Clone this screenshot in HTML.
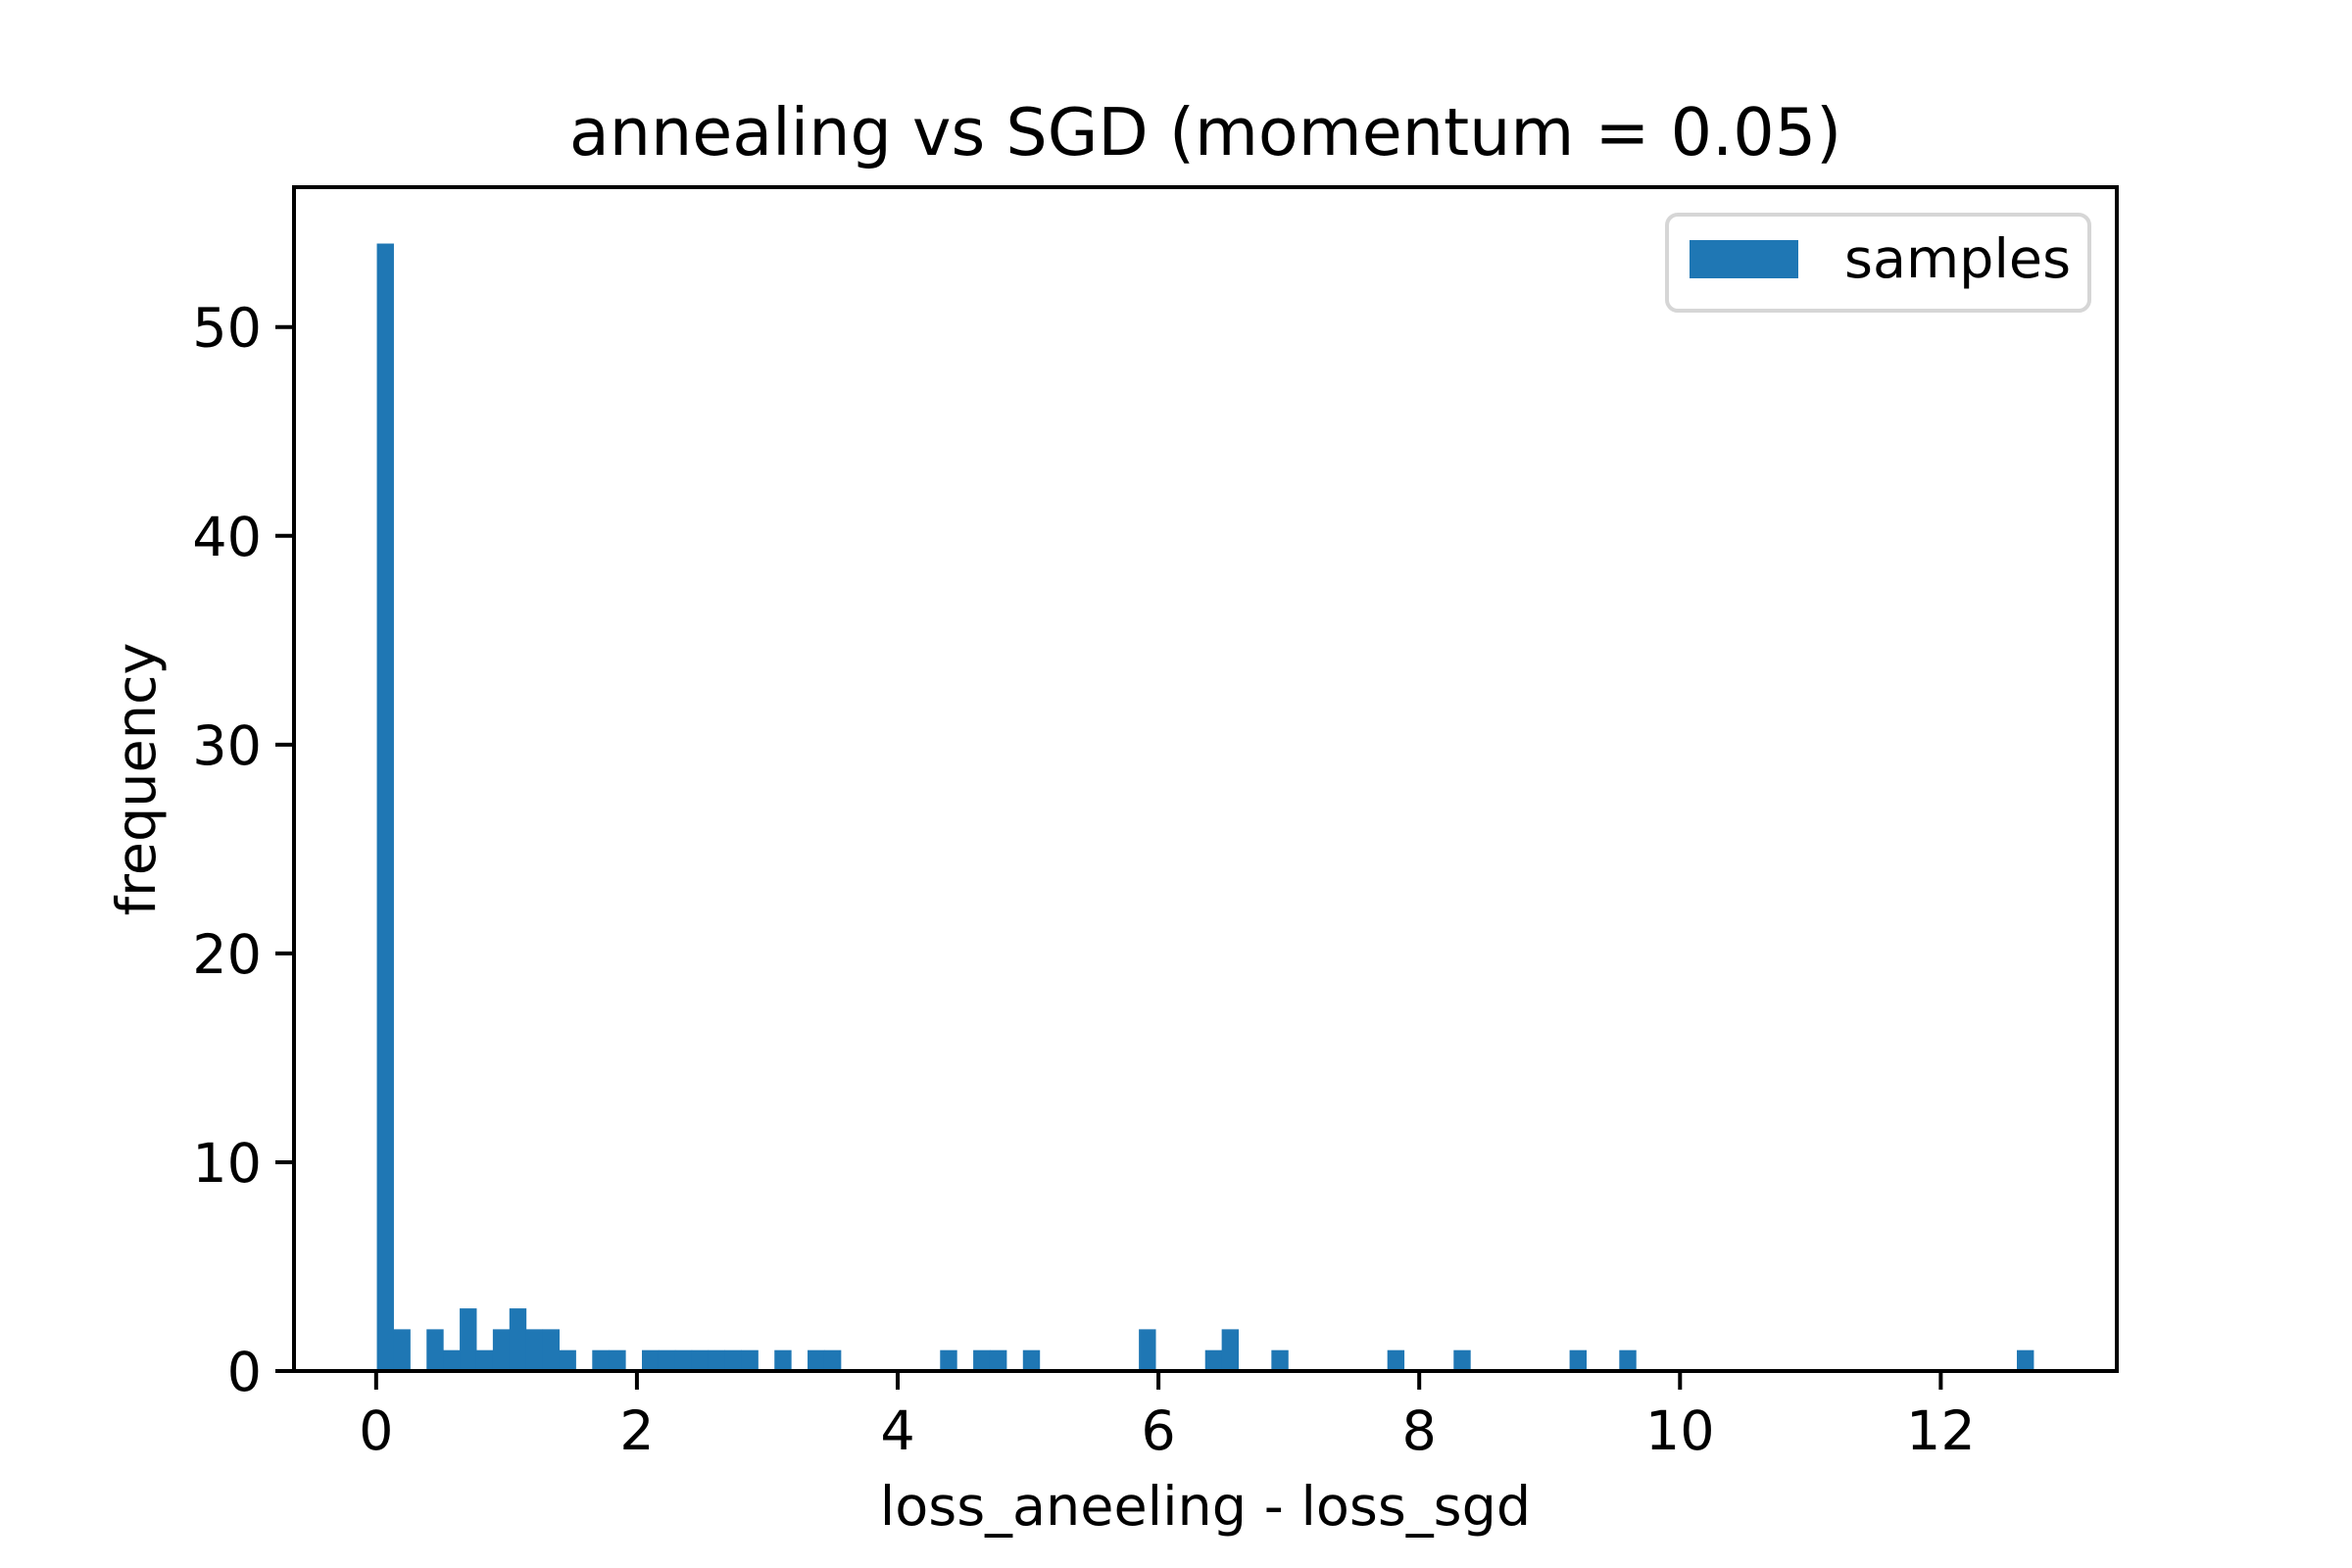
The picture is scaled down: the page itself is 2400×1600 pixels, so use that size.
<!DOCTYPE html>
<html><head><meta charset="utf-8"><style>
html,body{margin:0;padding:0;background:#fff;}
svg{display:block;font-family:"DejaVu Sans","Liberation Sans",sans-serif;}
</style></head><body>
<svg id="chart" width="2400" height="1600" viewBox="0 0 2400 1600" xmlns="http://www.w3.org/2000/svg">
<rect width="2400" height="1600" fill="#fff"/>
<g id="bars"></g>
<g id="axes"></g>
<text x="1230" y="158" font-size="66.7" text-anchor="middle">annealing vs SGD (momentum = 0.05)</text>
<text x="1230" y="1556" font-size="55.6" text-anchor="middle">loss_aneeling - loss_sgd</text>
<text transform="translate(158,795) rotate(-90)" font-size="55.6" text-anchor="middle">frequency</text>
<g>
<rect x="1701" y="219" width="431" height="98" rx="11" fill="#fff" fill-opacity="0.8" stroke="#d6d6d6" stroke-width="4"/>
<rect x="1724" y="245" width="111" height="39" fill="#1f77b4"/>
<text x="1882" y="283" font-size="55.6">samples</text>
</g>
</svg>
<script>
const binStart = 0.0055;
const binWidth = 0.12705;
const counts = [54,2,0,2,1,3,1,2,3,2,2,1,0,1,1,0,1,1,1,1,1,1,1,0,1,0,1,1,0,0,0,0,0,0,1,0,1,1,0,1,0,0,0,0,0,0,2,0,0,0,1,2,0,0,1,0,0,0,0,0,0,1,0,0,0,1,0,0,0,0,0,0,1,0,0,1,0,0,0,0,0,0,0,0,0,0,0,0,0,0,0,0,0,0,0,0,0,0,0,1];
const xTicks = [0,2,4,6,8,10,12];
const yTicks = [0,10,20,30,40,50];
const L=300,R=2160,T=191,B=1399;
const xMin=-0.63,xMax=13.35,yMin=0,yMax=56.7;
const NS="http://www.w3.org/2000/svg";
function sx(v){return L+(v-xMin)/(xMax-xMin)*(R-L);}
function sy(v){return B-(v-yMin)/(yMax-yMin)*(B-T);}
function mk(tag,attrs,parent){const e=document.createElementNS(NS,tag);for(const k in attrs)e.setAttribute(k,attrs[k]);parent.appendChild(e);return e;}
const bars=document.getElementById('bars');
counts.forEach((c,i)=>{
  if(c<=0)return;
  const x0=sx(binStart+i*binWidth),x1=sx(binStart+(i+1)*binWidth);
  const r=mk('rect',{x:x0,y:sy(c),width:x1-x0+0.5,height:sy(0)-sy(c),fill:'#1f77b4'},bars);
  
  
});
const ax=document.getElementById('axes');
xTicks.forEach(t=>{
  const x=sx(t);
  const l=mk('line',{x1:x,x2:x,y1:B,y2:B+19,stroke:'#000','stroke-width':4},ax);
  
  
  const tx=mk('text',{x:x,y:B+80,'font-size':55.6,'text-anchor':'middle'},ax);
  tx.textContent=t;
  
  
});
yTicks.forEach(t=>{
  const y=sy(t);
  const l=mk('line',{x1:L-19,x2:L,y1:y,y2:y,stroke:'#000','stroke-width':4},ax);
  
  
  const tx=mk('text',{x:L-33,y:y+20,'font-size':55.6,'text-anchor':'end'},ax);
  tx.textContent=t;
  
  
});
const fr=mk('rect',{x:L,y:T,width:R-L,height:B-T,fill:'none',stroke:'#000','stroke-width':4},ax);


</script>
</body></html>
